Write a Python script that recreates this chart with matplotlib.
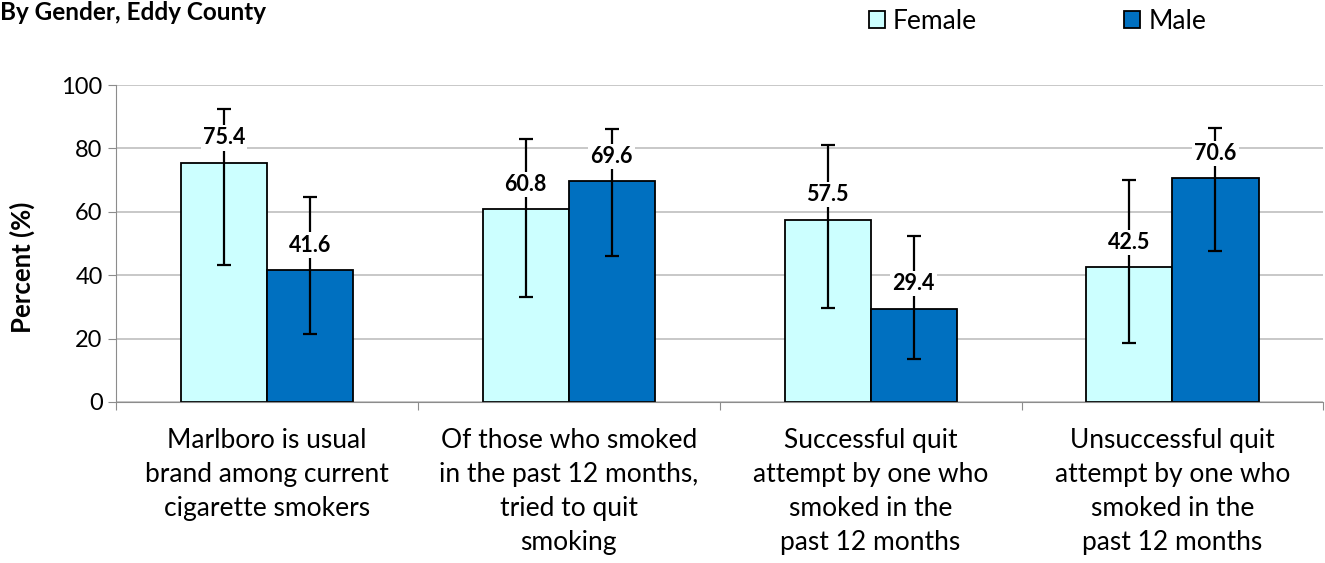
import numpy as np
import matplotlib
matplotlib.use('Agg')
import matplotlib.pyplot as plt

categories = ["Marlboro is usual\nbrand among current\ncigarette smokers",
              "Of those who smoked\nin the past 12 months,\ntried to quit\nsmoking",
              "Successful quit\nattempt by one who\nsmoked in the\npast 12 months",
              "Unsuccessful quit\nattempt by one who\nsmoked in the\npast 12 months"]
female = [75.4, 60.8, 57.5, 42.5]
male = [41.6, 69.6, 29.4, 70.6]
female_lo = [43.3, 33.1, 29.8, 18.7]
female_hi = [92.5, 83.0, 81.2, 70.1]
male_lo = [21.5, 46.1, 13.6, 47.5]
male_hi = [64.6, 86.1, 52.4, 86.4]

plt.rcParams['font.family'] = ['Lato', 'DejaVu Sans']

fig = plt.figure(figsize=(13.25, 5.63), dpi=100)
ax = fig.add_axes([0.0875, 0.286, 0.9113, 0.563])

x = np.arange(len(categories))
w = 0.285
series = [(female, female_lo, female_hi, '#CCFFFF', 'Female', -w / 2),
          (male, male_lo, male_hi, '#0070C0', 'Male', w / 2)]

for vals, lo, hi, col, name, off in series:
    vals = np.array(vals)
    err = [vals - np.array(lo), np.array(hi) - vals]
    ax.bar(x + off, vals, w, color=col, edgecolor='black', linewidth=1.3, label=name, zorder=2)
    ax.errorbar(x + off, vals, yerr=err, fmt='none', ecolor='black', elinewidth=1.6,
                capsize=5, capthick=1.6, zorder=3)
    for xi, v in zip(x + off, vals):
        ax.annotate(f"{v:.1f}", (xi, v), xytext=(0, 18), textcoords='offset points',
                    ha='center', va='center', fontsize=15.5, fontweight='bold', zorder=4,
                    bbox=dict(boxstyle='square,pad=0.1', fc='white', ec='none'))

ax.set_ylim(0, 100)
ax.set_xlim(-0.5, len(categories) - 0.5)
ax.set_yticks(np.arange(0, 101, 20))
ax.yaxis.grid(True, color='#BFBFBF', linewidth=1.2, zorder=0)
ax.set_axisbelow(True)
for s in ['top', 'right']:
    ax.spines[s].set_visible(False)
ax.spines['left'].set_color('#8C8C8C')
ax.spines['bottom'].set_color('#8C8C8C')
ax.tick_params(axis='y', colors='#8C8C8C', labelcolor='black', labelsize=17, length=6)

ax.set_xticks(np.arange(-0.5, len(categories)), labels=[])
ax.tick_params(axis='x', which='major', colors='#8C8C8C', length=6)
ax.set_xticks(x, labels=categories, minor=True)
ax.tick_params(axis='x', which='minor', length=0, labelsize=19, pad=19)
for t in ax.get_xticklabels(minor=True):
    t.set_linespacing(1.45)

ax.set_ylabel('Percent (%)', fontsize=18.5, fontweight='bold')
ax.yaxis.set_label_coords(-0.067, 0.425)

fig.text(0.0, 0.978, 'By Gender, Eddy County', fontsize=17.5, fontweight='bold', va='center')
fig.legend(loc='center', bbox_to_anchor=(0.783, 0.962), ncol=2, frameon=False, fontsize=19,
           handlelength=0.6, handleheight=0.6, columnspacing=5.6, handletextpad=0.3)

fig.savefig('out.png', dpi=100)
